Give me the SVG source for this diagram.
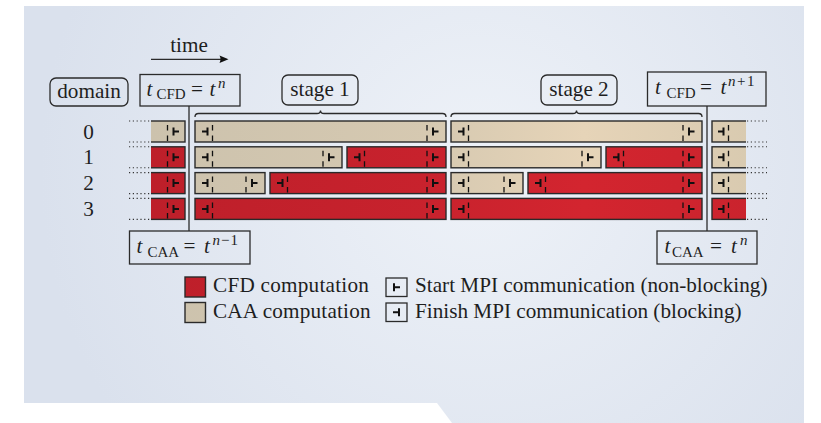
<svg xmlns="http://www.w3.org/2000/svg" width="821" height="423" viewBox="0 0 821 423">
  <defs>
    <radialGradient id="bgGlow" gradientUnits="userSpaceOnUse" cx="480" cy="170" r="440">
      <stop offset="0" stop-color="#eef2f8"/>
      <stop offset="1" stop-color="#dae1ed"/>
    </radialGradient>
    <linearGradient id="gRed" gradientUnits="userSpaceOnUse" x1="150" y1="0" x2="770" y2="0">
      <stop offset="0" stop-color="#bd1f2a"/>
      <stop offset="0.45" stop-color="#c8222d"/>
      <stop offset="0.7" stop-color="#d3252f"/>
      <stop offset="1" stop-color="#c9232d"/>
    </linearGradient>
    <linearGradient id="gSand" gradientUnits="userSpaceOnUse" x1="150" y1="0" x2="770" y2="0">
      <stop offset="0" stop-color="#ccc2ad"/>
      <stop offset="0.45" stop-color="#d6c9b1"/>
      <stop offset="0.7" stop-color="#e6d4b8"/>
      <stop offset="1" stop-color="#d7c9af"/>
    </linearGradient>
    <clipPath id="clipL"><rect x="151" y="110" width="50" height="120"/></clipPath>
    <clipPath id="clipR"><rect x="700" y="110" width="46" height="120"/></clipPath>
    <!-- finish (blocking) marker, origin at bar start / row top -->
    <g id="fin">
      <path class="glyph" d="M7,10.5H12.5M12.5,6.5V14.5"/>
      <line class="dash" x1="17.5" y1="4" x2="17.5" y2="21"/>
    </g>
    <!-- start (non-blocking) marker, origin at bar end / row top -->
    <g id="sta">
      <line class="dash" x1="-19" y1="4" x2="-19" y2="21"/>
      <path class="glyph" d="M-13,6.5V14.5M-13,10.5H-7.5"/>
    </g>
  </defs>
  <style>
    text { font-family: "Liberation Serif", "Times New Roman", serif; fill: #1e1e1e; }
    .lbl { font-size: 21.2px; }
    .it { font-style: italic; }
    .sub { font-size: 15px; }
    .box { fill: none; stroke: #2b2b2b; stroke-width: 1.3; }
    .red { fill: url(#gRed); stroke: #2a2a2a; stroke-width: 1.4; }
    .sand { fill: url(#gSand); stroke: #2a2a2a; stroke-width: 1.4; }
    .glyph { fill: none; stroke: #111; stroke-width: 2; }
    .dash { stroke: #111; stroke-width: 1.3; stroke-dasharray: 5.5 5; }
    .dot { stroke: #333; stroke-width: 1.1; stroke-dasharray: 1.2 2.6; }
    .wire { fill: none; stroke: #2b2b2b; stroke-width: 1.3; }
  </style>

  <!-- backdrop panel -->
  <path d="M24,6H804V423H452L437,403H24Z" fill="url(#bgGlow)"/>

  <!-- time axis -->
  <g id="time-axis">
    <text class="lbl" x="189" y="51.5" text-anchor="middle">time</text>
  </g>

  <g id="domain-label">
    <rect class="box" x="50" y="78" width="78" height="28" rx="6"/>
    <text class="lbl" x="89" y="98" text-anchor="middle">domain</text>
  </g>

  <g id="row-labels">
    <text class="lbl" x="88.5" y="138.5" text-anchor="middle">0</text>
    <text class="lbl" x="88.5" y="164.3" text-anchor="middle">1</text>
    <text class="lbl" x="88.5" y="190.1" text-anchor="middle">2</text>
    <text class="lbl" x="88.5" y="215.9" text-anchor="middle">3</text>
  </g>

  <g id="cfd-n">
    <rect class="box" x="140" y="74.5" width="100" height="31.5"/>
    <text class="lbl"><tspan class="it" x="146.5" y="95.5">t</tspan><tspan class="sub" x="156.5" y="99">CFD</tspan><tspan x="191" y="95.5">=</tspan><tspan class="it" x="209.5" y="95.5">t</tspan><tspan class="it sub" x="218" y="88">n</tspan></text>
  </g>

  <g id="cfd-n1">
    <rect class="box" x="647.5" y="72" width="118.5" height="34"/>
    <text class="lbl"><tspan class="it" x="655" y="94">t</tspan><tspan class="sub" x="666.5" y="97.5">CFD</tspan><tspan x="700" y="94">=</tspan><tspan class="it" x="720.5" y="94">t</tspan><tspan class="sub" x="728" y="86" letter-spacing="1.5"><tspan class="it">n</tspan>+1</tspan></text>
  </g>

  <g id="caa-n-1">
    <rect class="box" x="129.5" y="231" width="120.5" height="33"/>
    <text class="lbl"><tspan class="it" x="136.5" y="253">t</tspan><tspan class="sub" x="147.5" y="256.5">CAA</tspan><tspan x="183.5" y="253">=</tspan><tspan class="it" x="204" y="253">t</tspan><tspan class="sub" x="212.5" y="245" letter-spacing="1"><tspan class="it">n</tspan>−1</tspan></text>
  </g>

  <g id="caa-n">
    <rect class="box" x="657" y="231" width="100" height="33"/>
    <text class="lbl"><tspan class="it" x="664.5" y="253">t</tspan><tspan class="sub" x="672" y="256.5">CAA</tspan><tspan x="710" y="253">=</tspan><tspan class="it" x="731" y="253">t</tspan><tspan class="it sub" x="740" y="245">n</tspan></text>
  </g>

  <g id="stage-1">
    <rect class="box" x="282" y="75" width="76" height="30" rx="6"/>
    <text class="lbl" x="320" y="96" text-anchor="middle">stage 1</text>
  </g>

  <g id="stage-2">
    <rect class="box" x="541" y="75" width="76" height="30" rx="6"/>
    <text class="lbl" x="579" y="96" text-anchor="middle">stage 2</text>
  </g>

  <!-- previous step (left, clipped) -->
  <g id="prev-step" clip-path="url(#clipL)">
    <rect class="sand" x="140" y="121" width="45" height="21"/>
    <rect class="red" x="140" y="146.8" width="45" height="21"/>
    <rect class="red" x="140" y="172.6" width="45" height="21"/>
    <rect class="red" x="140" y="198.4" width="45" height="21"/>
    <use href="#sta" x="186.5" y="121"/>
    <use href="#sta" x="186.5" y="146.8"/>
    <use href="#sta" x="186.5" y="172.6"/>
    <use href="#sta" x="186.5" y="198.4"/>
  </g>

  <!-- stage 1 work -->
  <g id="stage1-work">
    <rect class="sand" x="195" y="121" width="251" height="21"/>
    <use href="#fin" x="195" y="121"/><use href="#sta" x="446" y="121"/>
    <rect class="sand" x="195" y="146.8" width="147" height="21"/>
    <use href="#fin" x="195" y="146.8"/><use href="#sta" x="342" y="146.8"/>
    <rect class="red" x="347" y="146.8" width="99" height="21"/>
    <use href="#fin" x="347" y="146.8"/><use href="#sta" x="446" y="146.8"/>
    <rect class="sand" x="195" y="172.6" width="70" height="21"/>
    <use href="#fin" x="195" y="172.6"/><use href="#sta" x="265" y="172.6"/>
    <rect class="red" x="270" y="172.6" width="176" height="21"/>
    <use href="#fin" x="270" y="172.6"/><use href="#sta" x="446" y="172.6"/>
    <rect class="red" x="195" y="198.4" width="251" height="21"/>
    <use href="#fin" x="195" y="198.4"/><use href="#sta" x="446" y="198.4"/>
  </g>

  <!-- stage 2 work -->
  <g id="stage2-work">
    <rect class="sand" x="451" y="121" width="251" height="21"/>
    <use href="#fin" x="451" y="121"/><use href="#sta" x="702" y="121"/>
    <rect class="sand" x="451" y="146.8" width="150" height="21"/>
    <use href="#fin" x="451" y="146.8"/><use href="#sta" x="601" y="146.8"/>
    <rect class="red" x="606" y="146.8" width="96" height="21"/>
    <use href="#fin" x="606" y="146.8"/><use href="#sta" x="702" y="146.8"/>
    <rect class="sand" x="451" y="172.6" width="72" height="21"/>
    <use href="#fin" x="451" y="172.6"/><use href="#sta" x="523" y="172.6"/>
    <rect class="red" x="528" y="172.6" width="174" height="21"/>
    <use href="#fin" x="528" y="172.6"/><use href="#sta" x="702" y="172.6"/>
    <rect class="red" x="451" y="198.4" width="251" height="21"/>
    <use href="#fin" x="451" y="198.4"/><use href="#sta" x="702" y="198.4"/>
  </g>

  <!-- next step (right, clipped) -->
  <g id="next-step" clip-path="url(#clipR)">
    <rect class="sand" x="712" y="121" width="50" height="21"/>
    <rect class="sand" x="712" y="146.8" width="50" height="21"/>
    <rect class="sand" x="712" y="172.6" width="50" height="21"/>
    <rect class="red" x="712" y="198.4" width="50" height="21"/>
    <use href="#fin" x="711" y="121"/>
    <use href="#fin" x="711" y="146.8"/>
    <use href="#fin" x="711" y="172.6"/>
    <use href="#fin" x="711" y="198.4"/>
  </g>

  <!-- continuation dots -->
  <g id="continuation">
    <path class="dot" d="M129,121H150M129,142H150M129,146.8H150M129,167.8H150M129,172.6H150M129,193.6H150M129,198.4H150M129,219.4H150"/>
    <path class="dot" d="M747,121H767M747,142H767M747,146.8H767M747,167.8H767M747,172.6H767M747,193.6H767M747,198.4H767M747,219.4H767"/>
  </g>

  <g id="connectors">
    <line class="wire" x1="151" y1="59.3" x2="221" y2="59.3"/>
    <path d="M228.5,59.3L219.5,55.6Q221.5,59.3 219.5,63Z" fill="#111"/>
    <line class="wire" x1="189" y1="106" x2="189" y2="231"/>
    <line class="wire" x1="707" y1="106" x2="707" y2="231"/>
    <path class="wire" stroke-width="1.1" d="M195,117Q195,113.5 198.5,113.5H317Q320.5,113.5 320.5,110.5Q320.5,113.5 324,113.5H442.5Q446,113.5 446,117"/>
    <path class="wire" stroke-width="1.1" d="M451,117Q451,113.5 454.5,113.5H573Q576.5,113.5 576.5,110.5Q576.5,113.5 580,113.5H698.5Q702,113.5 702,117"/>
  </g>

  <g id="legend">
    <rect class="red" x="185" y="277" width="20.5" height="20"/>
    <text class="lbl" x="213" y="292.3" letter-spacing="0.25">CFD computation</text>
    <rect class="sand" x="185" y="302.5" width="20.5" height="20"/>
    <text class="lbl" x="213" y="318.3" letter-spacing="0.2">CAA computation</text>
    <rect class="box" x="386" y="278" width="21" height="18.5"/>
    <path class="glyph" d="M394,283.2V291.2M394,287.2H400"/>
    <text class="lbl" x="415" y="292.3">Start MPI communication (non-blocking)</text>
    <rect class="box" x="386" y="303" width="21" height="18.5"/>
    <path class="glyph" d="M393,312.3H399M399,308.3V316.3"/>
    <text class="lbl" x="415" y="318.3">Finish MPI communication (blocking)</text>
  </g>
</svg>
